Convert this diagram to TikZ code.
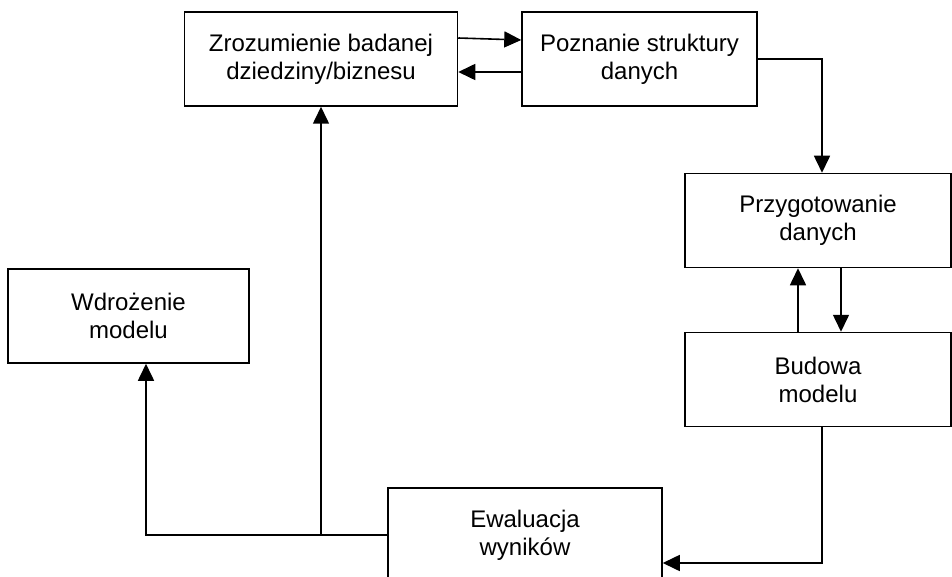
\documentclass[tikz,border=0pt]{standalone}
\usepackage{fontspec}
\setmainfont{Liberation Sans}
\usetikzlibrary{arrows.meta,positioning,calc}

\begin{document}
\begin{tikzpicture}[x=0.5pt,y=-0.5pt,
  stage/.style={draw=black,line width=0.75pt,rectangle,minimum height=47pt,
                align=center,font=\fontsize{12}{14}\selectfont,inner sep=2pt},
  arr/.style={-{Triangle[length=8.5pt,width=8pt]},line width=0.8pt,draw=black}
]
  \useasboundingbox (0,0) rectangle (952,577);

  % Stages
  \node[stage,minimum width=136.5pt] (zroz)   at (321,  59)    {Zrozumienie badanej\\dziedziny/biznesu};
  \node[stage,minimum width=117.5pt] (pozn)   at (639.5, 59)   {Poznanie struktury\\danych};
  \node[stage,minimum width=133pt]   (przyg)  at (818,  220.5) {Przygotowanie\\danych};
  \node[stage,minimum width=133pt]   (budowa) at (818,  379.5) {Budowa\\modelu};
  \node[stage,minimum width=120.5pt] (wdroz)  at (128.5,316)   {Wdrożenie\\modelu};
  \node[stage,minimum width=137pt]   (ewal)   at (525,  535)   {Ewaluacja\\wyników};

  % Zrozumienie <-> Poznanie
  \draw[arr] ([yshift=10.5pt]zroz.east) -- ([yshift=9.5pt]pozn.west);
  \draw[arr] ([yshift=-6.5pt]pozn.west) -- ([yshift=-6.5pt]zroz.east);

  % Poznanie -> Przygotowanie
  \draw[arr] (pozn.east) -| ([xshift=2pt]przyg.north);

  % Przygotowanie <-> Budowa
  \draw[arr] ([xshift=11.5pt]przyg.south) -- ([xshift=11.5pt]budowa.north);
  \draw[arr] ([xshift=-10pt]budowa.north) -- ([xshift=-10pt]przyg.south);

  % Budowa -> Ewaluacja
  \draw[arr] ([xshift=2pt]budowa.south) |- ([yshift=-14pt]ewal.east);

  % Ewaluacja -> Wdrozenie, Zrozumienie
  \draw[arr] (ewal.west) -| ([xshift=8.75pt]wdroz.south);
  \draw[arr] (ewal.west -| zroz.south) -- (zroz.south);
\end{tikzpicture}
\end{document}
